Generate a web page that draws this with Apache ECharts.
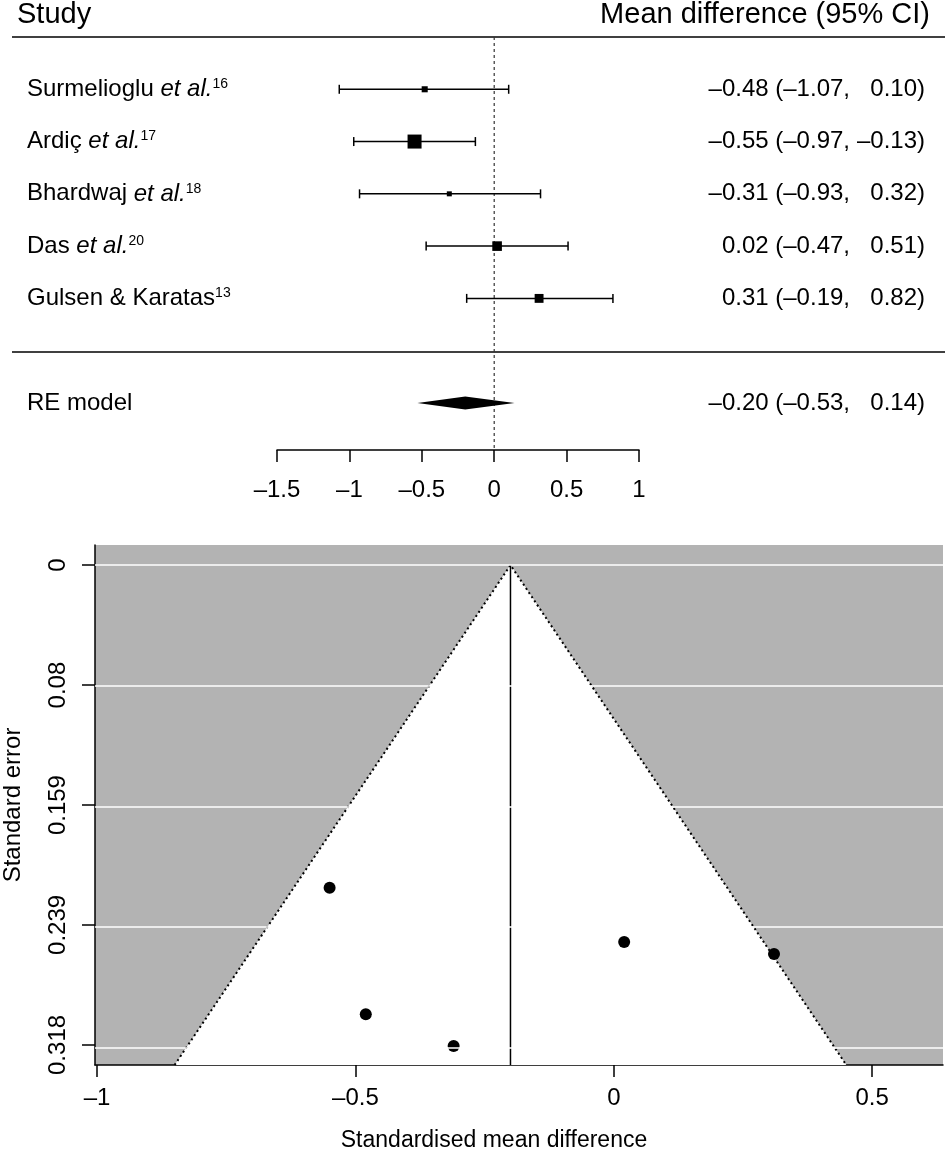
<!DOCTYPE html>
<html><head><meta charset="utf-8">
<script src="https://cdn.jsdelivr.net/npm/echarts@6/dist/echarts.min.js"></script>
<style>html,body{margin:0;padding:0;background:#fff}#c{width:945px;height:1156px}</style>
</head><body><div id="c"></div>
<script>
// ---------- data ----------
const studyNames = ['Surmelioglu', 'Ardiç', 'Bhardwaj', 'Das', 'Gulsen & Karatas'];
const studyEtAl = [true, true, true, true, false];
const studyRefs = ['16', '17', '18', '20', '13'];
const estimates = [-0.48, -0.55, -0.31, 0.02, 0.31];
const ciLower = [-1.07, -0.97, -0.93, -0.47, -0.19];
const ciUpper = [0.10, -0.13, 0.32, 0.51, 0.82];
const weights = [15.2, 29.5, 13.3, 21.6, 20.3];
const reEstimate = [-0.20];
const reLower = [-0.53];
const reUpper = [0.14];
const forestTicks = [-1.5, -1, -0.5, 0, 0.5, 1];
const standardErrors = [0.298, 0.214, 0.319, 0.250, 0.258];
const seTickValues = [0, 0.0796, 0.1592, 0.2387, 0.3183];
const seTickLabels = ['0', '0.08', '0.159', '0.239', '0.318'];
const smdTicks = [-1, -0.5, 0, 0.5];

// ---------- layout ----------
const FONT = 'Liberation Sans, Arial, Helvetica, sans-serif';
const ROW_FS = 24, VAL_FS = 24, HEAD_FS = 29, TICK_FS = 24;
const nStudies = studyNames.length;
const rows = studyNames.map((_, i) => nStudies - i);   // 5..1
const reRow = -1;
const yMinF = -1.9, yMaxF = 6;
const seMin = -0.0133, seMax = 0.3316;
const smdMin = -1.004, smdMax = 0.637;
const LABEL_X = 27, VALUE_RIGHT = 925, VALUE_SPLIT = 850;

const dash = v => (v < 0 ? '\u2013' : '') + Math.abs(v).toFixed(2);
const tickFmt = v => (v < 0 ? '\u2013' : '') + String(Math.abs(v));

const wMin = Math.min(...weights), wMax = Math.max(...weights);
const sqSize = w => 5 + (w - wMin) / (wMax - wMin) * 9;

const forestData = estimates.map((e, i) => [e, rows[i], ciLower[i], ciUpper[i], weights[i], i]);

const chart = echarts.init(document.getElementById('c'), null, {renderer: 'canvas'});

const option = {
  animation: false,
  backgroundColor: '#ffffff',
  textStyle: {fontFamily: FONT, color: '#000'},
  grid: [
    {left: 277, width: 362, top: 37, height: 413, containLabel: false, outerBoundsMode: 'none'},
    {left: 95, width: 848, top: 545, height: 520, show: true, backgroundColor: '#b3b3b3', borderWidth: 0, containLabel: false, outerBoundsMode: 'none'}
  ],
  xAxis: [
    {
      gridIndex: 0, type: 'value', min: -1.5, max: 1, interval: 0.5,
      axisLine: {show: true, onZero: false, lineStyle: {color: '#000', width: 1.5}},
      axisTick: {show: true, length: 12, lineStyle: {color: '#000', width: 1.5}},
      axisLabel: {show: true, margin: 28, fontSize: TICK_FS, color: '#000', fontFamily: FONT, formatter: tickFmt},
      splitLine: {show: false}
    },
    {
      gridIndex: 1, type: 'value', min: smdMin, max: smdMax,
      axisLine: {show: true, onZero: false, lineStyle: {color: '#000', width: 1.5}},
      axisTick: {show: true, length: 12, customValues: smdTicks, lineStyle: {color: '#000', width: 1.5}},
      axisLabel: {show: true, margin: 21, fontSize: TICK_FS, color: '#000', fontFamily: FONT, customValues: smdTicks, formatter: tickFmt},
      splitLine: {show: false},
      name: 'Standardised mean difference', nameLocation: 'middle', nameGap: 64,
      nameTextStyle: {fontSize: 23, color: '#000', fontFamily: FONT, padding: [0, 50, 0, 0]}
    }
  ],
  yAxis: [
    {gridIndex: 0, type: 'value', min: yMinF, max: yMaxF, show: false},
    {
      gridIndex: 1, type: 'value', inverse: true, min: seMin, max: seMax,
      axisLine: {show: true, onZero: false, lineStyle: {color: '#000', width: 1.5}},
      axisTick: {show: true, length: 13, customValues: seTickValues, lineStyle: {color: '#000', width: 1.5}},
      axisLabel: {show: true, margin: 25, rotate: 90, fontSize: 24, color: '#000', fontFamily: FONT,
        customValues: seTickValues,
        formatter: v => { const k = seTickValues.indexOf(v); return k >= 0 ? seTickLabels[k] : ''; }},
      splitLine: {show: false},
      name: 'Standard error', nameLocation: 'middle', nameGap: 70, nameRotate: 90,
      nameTextStyle: {fontSize: 24, color: '#000', fontFamily: FONT}
    }
  ],
  graphic: [
    {type: 'text', left: 17, top: 0, style: {text: 'Study', font: HEAD_FS + 'px ' + FONT, fill: '#000'}},
    {type: 'text', right: 15, top: 0, style: {text: 'Mean difference (95% CI)', font: HEAD_FS + 'px ' + FONT, fill: '#000'}},
    {type: 'line', shape: {x1: 12, y1: 37, x2: 945, y2: 37}, style: {stroke: '#000', lineWidth: 1.5}},
    {type: 'line', shape: {x1: 12, y1: 352, x2: 945, y2: 352}, style: {stroke: '#000', lineWidth: 1.5}}
  ],
  series: [
    {
      type: 'line', xAxisIndex: 0, yAxisIndex: 0, data: [[0, yMaxF], [0, yMinF]],
      symbol: 'none', silent: true, z: 1,
      lineStyle: {color: '#333', width: 1.2, type: [3, 3]}
    },
    {
      type: 'custom', xAxisIndex: 0, yAxisIndex: 0, z: 3, clip: false,
      data: forestData,
      renderItem: (params, api) => {
        const i = api.value(5);
        const c = api.coord([api.value(0), api.value(1)]);
        const lo = api.coord([api.value(2), api.value(1)]);
        const hi = api.coord([api.value(3), api.value(1)]);
        const s = sqSize(api.value(4));
        const cap = 4.5;
        const y = c[1];
        const name = studyEtAl[i]
          ? '{n|' + studyNames[i] + ' }{i|et al.}{s|' + studyRefs[i] + '}'
          : '{n|' + studyNames[i] + '}{s|' + studyRefs[i] + '}';
        const rich = {
          n: {fontSize: ROW_FS, fontFamily: FONT, fill: '#000'},
          i: {fontSize: ROW_FS, fontFamily: FONT, fontStyle: 'italic', fill: '#000'},
          s: {fontSize: 14, fontFamily: FONT, verticalAlign: 'top', fill: '#000'}
        };
        const valA = dash(estimates[i]) + ' (' + dash(ciLower[i]) + ',';
        const valB = dash(ciUpper[i]) + ')';
        return {
          type: 'group',
          children: [
            {type: 'line', shape: {x1: lo[0], y1: y, x2: hi[0], y2: y}, style: {stroke: '#000', lineWidth: 1.5}},
            {type: 'line', shape: {x1: lo[0], y1: y - cap, x2: lo[0], y2: y + cap}, style: {stroke: '#000', lineWidth: 1.5}},
            {type: 'line', shape: {x1: hi[0], y1: y - cap, x2: hi[0], y2: y + cap}, style: {stroke: '#000', lineWidth: 1.5}},
            {type: 'rect', shape: {x: c[0] - s / 2, y: y - s / 2, width: s, height: s}, style: {fill: '#000'}},
            {type: 'text', x: LABEL_X, y: y, style: {text: name, rich: rich, verticalAlign: 'middle', align: 'left'}},
            {type: 'text', x: VALUE_SPLIT, y: y, style: {text: valA, font: VAL_FS + 'px ' + FONT, fill: '#000', align: 'right', verticalAlign: 'middle'}},
            {type: 'text', x: VALUE_RIGHT, y: y, style: {text: valB, font: VAL_FS + 'px ' + FONT, fill: '#000', align: 'right', verticalAlign: 'middle'}}
          ]
        };
      }
    },
    {
      type: 'custom', xAxisIndex: 0, yAxisIndex: 0, z: 3, clip: false,
      data: [[reEstimate[0], reRow, reLower[0], reUpper[0]]],
      renderItem: (params, api) => {
        const c = api.coord([api.value(0), api.value(1)]);
        const lo = api.coord([api.value(2), api.value(1)]);
        const hi = api.coord([api.value(3), api.value(1)]);
        const h = 6.5, y = c[1];
        return {
          type: 'group',
          children: [
            {type: 'polygon', shape: {points: [[lo[0], y], [c[0], y - h], [hi[0], y], [c[0], y + h]]}, style: {fill: '#000'}},
            {type: 'text', x: LABEL_X, y: y, style: {text: 'RE model', font: ROW_FS + 'px ' + FONT, fill: '#000', verticalAlign: 'middle'}},
            {type: 'text', x: VALUE_SPLIT, y: y, style: {text: dash(reEstimate[0]) + ' (' + dash(reLower[0]) + ',', font: VAL_FS + 'px ' + FONT, fill: '#000', align: 'right', verticalAlign: 'middle'}},
            {type: 'text', x: VALUE_RIGHT, y: y, style: {text: dash(reUpper[0]) + ')', font: VAL_FS + 'px ' + FONT, fill: '#000', align: 'right', verticalAlign: 'middle'}}
          ]
        };
      }
    },
    {
      type: 'line', xAxisIndex: 1, yAxisIndex: 1, data: [], z: 1,
      markLine: {
        silent: true, symbol: 'none', label: {show: false},
        lineStyle: {color: '#ffffff', width: 1.5, type: 'solid'},
        data: seTickValues.map(v => ({yAxis: v}))
      }
    },
    {
      type: 'custom', xAxisIndex: 1, yAxisIndex: 1, z: 2,
      data: [[reEstimate[0], seMax]],
      renderItem: (params, api) => {
        const est = api.value(0), ymax = api.value(1);
        const p1 = api.coord([est - 1.96 * ymax, ymax]);
        const p2 = api.coord([est, 0]);
        const p3 = api.coord([est + 1.96 * ymax, ymax]);
        return {type: 'polygon', shape: {points: [p1, p2, p3]}, style: {fill: '#ffffff'}};
      }
    },
    {
      type: 'line', xAxisIndex: 1, yAxisIndex: 1, z: 3, symbol: 'none', silent: true,
      data: [[reEstimate[0] - 1.96 * seMax, seMax], [reEstimate[0], 0], [reEstimate[0] + 1.96 * seMax, seMax]],
      lineStyle: {color: '#000', width: 2, type: [2, 3]}
    },
    {
      type: 'line', xAxisIndex: 1, yAxisIndex: 1, z: 3, symbol: 'none', silent: true,
      data: [[reEstimate[0], 0], [reEstimate[0], seMax]],
      lineStyle: {color: '#000', width: 1.5}
    },
    {
      type: 'scatter', xAxisIndex: 1, yAxisIndex: 1, z: 4,
      data: estimates.map((e, i) => [e, standardErrors[i]]),
      symbol: 'circle', symbolSize: 12, itemStyle: {color: '#000', opacity: 1}
    }
  ]
};
chart.setOption(option);
</script>
</body></html>
